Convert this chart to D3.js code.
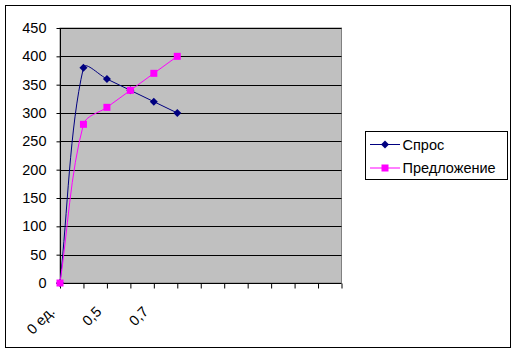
<!DOCTYPE html>
<html><head><meta charset="utf-8">
<script src="https://cdn.jsdelivr.net/npm/d3@7"></script>
<style>body{margin:0;background:#fff}svg{display:block}text{font-family:Arial,"Liberation Sans",sans-serif}</style>
</head><body><svg id="c" width="517" height="354"></svg>
<script>
const categories = ["0 ед.", "", "0,5", "", "0,7", "", "", "", "", "", "", "", ""];
const demand = [0, 380, 360, 340, 320, 300];
const supply = [0, 280, 310, 340, 370, 400];
const yTicks = [0, 50, 100, 150, 200, 250, 300, 350, 400, 450];
const seriesNames = ["Спрос", "Предложение"];
const colors = ["#000080", "#FF00FF"];

const svg = d3.select("#c");
const L = 60, R = 341.5, T = 28, B = 283;
svg.append("rect").attr("x",5.5).attr("y",5.5).attr("width",505).attr("height",342)
  .attr("fill","#fff").attr("stroke","#000").attr("stroke-width",1);

const x = d3.scalePoint().domain(d3.range(categories.length)).range([L, R]);
const y = d3.scaleLinear().domain([0, 450]).range([B, T]);

svg.append("rect").attr("x",L).attr("y",T).attr("width",R-L).attr("height",B-T)
  .attr("fill","#C0C0C0").attr("stroke","#808080").attr("stroke-width",1);

svg.append("g").selectAll("line").data(yTicks.slice(1)).join("line")
  .attr("x1",L).attr("x2",R).attr("y1",d=>Math.round(y(d))+0.5).attr("y2",d=>Math.round(y(d))+0.5)
  .attr("stroke","#000").attr("stroke-width",1);

const yAx = svg.append("g").attr("transform",`translate(${L+0.5},0)`)
  .call(d3.axisLeft(y).tickValues(yTicks).tickSize(4).tickPadding(10).tickFormat(d3.format("d")));
yAx.selectAll("text").attr("font-size","14.5px").attr("fill","#000");
yAx.selectAll("line,path").attr("stroke","#000");
yAx.select("path").attr("d",`M0,${T}V${B}`);

const xAx = svg.append("g").attr("transform",`translate(0,${B+0.5})`)
  .call(d3.axisBottom(x).tickSize(5).tickFormat(i=>categories[i]));
xAx.select("path").attr("stroke","#000").attr("d",`M${L},0H${R}`);
xAx.selectAll("line").attr("stroke","#000");
xAx.selectAll("text").attr("font-size","14.5px").attr("fill","#000")
  .attr("text-anchor","end").attr("dy","0").attr("y",0)
  .attr("transform","translate(-5,29) rotate(-45)");

// Excel-style smoothed Bezier (chord-weighted tangents)
function smoothPath(vals){
  const P = vals.map((v,i)=>[x(i), y(v)]);
  const n = P.length, p = d3.path();
  const dist = (a,b)=>Math.hypot(a[0]-b[0], a[1]-b[1]);
  p.moveTo(P[0][0], P[0][1]);
  for(let i=0;i<n-1;i++){
    const p0 = P[Math.max(i-1,0)], p1 = P[i], p2 = P[i+1], p3 = P[Math.min(i+2,n-1)];
    const d01 = dist(p0,p1), d12 = dist(p1,p2), d23 = dist(p2,p3);
    const fa = d12/((d01+d12)||1)/3*(d01===0?2:1)/(d01===0?2:1);
    const fb = d12/((d12+d23)||1)/3;
    const c1 = [p1[0]+(p2[0]-p0[0])*fa, p1[1]+(p2[1]-p0[1])*fa];
    const c2 = [p2[0]-(p3[0]-p1[0])*fb, p2[1]-(p3[1]-p1[1])*fb];
    p.bezierCurveTo(c1[0],c1[1],c2[0],c2[1],p2[0],p2[1]);
  }
  return p.toString();
}
[demand, supply].forEach((s,k)=>{
  svg.append("path").attr("d",smoothPath(s)).attr("fill","none").attr("stroke",colors[k]).attr("stroke-width",1);
});
// markers
svg.append("g").selectAll("path").data(demand).join("path")
  .attr("transform",(d,i)=>`translate(${x(i)},${y(d)})`)
  .attr("d","M0,-4L4,0L0,4L-4,0Z").attr("fill",colors[0]);
svg.append("g").selectAll("rect").data(supply).join("rect")
  .attr("x",(d,i)=>x(i)-3.5).attr("y",d=>y(d)-3.5).attr("width",7).attr("height",7).attr("fill",colors[1]);

// legend
const lg = svg.append("g");
lg.append("rect").attr("x",365.5).attr("y",131.5).attr("width",142).attr("height",48)
  .attr("fill","#fff").attr("stroke","#000");
seriesNames.forEach((n,k)=>{
  const cy = 144.5 + k*23.5;
  lg.append("line").attr("x1",370).attr("x2",400).attr("y1",cy).attr("y2",cy).attr("stroke",colors[k]);
  if(k===0) lg.append("path").attr("transform",`translate(385,${cy})`).attr("d","M0,-4L4,0L0,4L-4,0Z").attr("fill",colors[k]);
  else lg.append("rect").attr("x",381.5).attr("y",cy-3.5).attr("width",7).attr("height",7).attr("fill",colors[k]);
  lg.append("text").attr("x",402.5).attr("y",cy).attr("dy","0.36em").attr("font-size","14.5px").text(n);
});
</script></body></html>
